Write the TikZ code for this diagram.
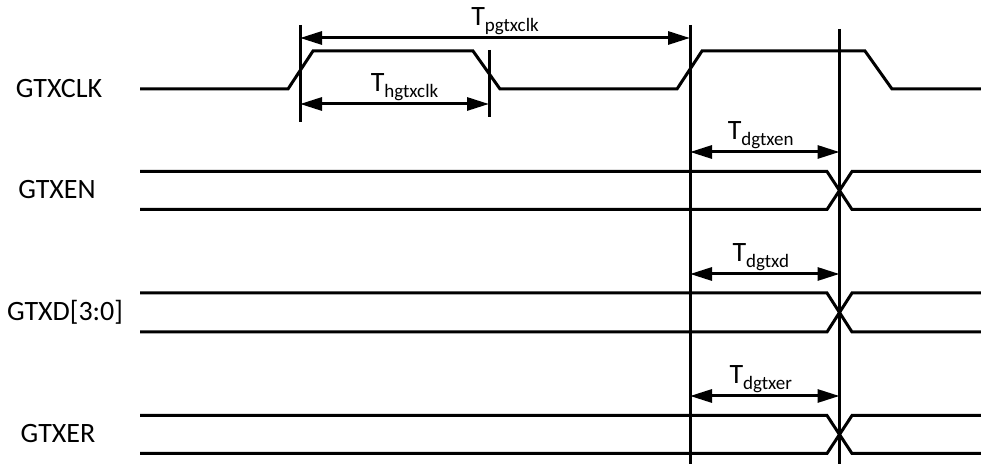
\documentclass[tikz,border=0pt]{standalone}
\usepackage{fontspec}
\setmainfont{Carlito}
\usetikzlibrary{arrows.meta}
\newcommand{\tLabel}[1]{T\raisebox{-0.4ex}{\fontsize{9.5}{10}\selectfont #1}}
\newcommand{\busSignal}[2]{%%
  %% Both rails of the bus, crossing at the second marker.
  \draw[lineStyle] (\xstart,#1) -- (\xcross-\xslope,#1) -- (\xcross+\xslope,#2) -- (\xend,#2);
  \draw[lineStyle] (\xstart,#2) -- (\xcross-\xslope,#2) -- (\xcross+\xslope,#1) -- (\xend,#1);
}
\newcommand{\delayArrow}[3]{%%
  \coordinate (#1from) at (\xedge,#2);
  \coordinate (#1to) at (\xcross,#2);
  \draw[dimStyle] (#1from) -- node[labelStyle,xshift=-2pt] {\tLabel{#3}} (#1to);
}

\begin{document}
\begin{tikzpicture}[x=0.5pt,y=-0.5pt,%%
  lineStyle/.style={-,line width=1.5pt,line join=miter},%%
  markStyle/.style={-,line width=1.5pt},%%
  dimStyle/.style={{Triangle[length=11pt,width=6.5pt]}-{Triangle[length=11pt,width=6.5pt]},line width=1.5pt},%%
  labelStyle/.style={above,inner sep=1pt,font=\fontsize{14}{16}\selectfont},%%
  nameStyle/.style={font=\fontsize{14}{16}\selectfont}%%
]
\useasboundingbox (0,0) rectangle (981,464);
%%
%%
\pgfmathsetmacro{\xstart}{140}
\pgfmathsetmacro{\xend}{981}
\pgfmathsetmacro{\xrise}{300}
\pgfmathsetmacro{\xfall}{489}
\pgfmathsetmacro{\xedge}{690}
\pgfmathsetmacro{\xcross}{839.5}
\pgfmathsetmacro{\xslope}{12.5}
\pgfmathsetmacro{\ylow}{89}
\pgfmathsetmacro{\yhigh}{51}
%% Signal names.
\node[nameStyle] (gtxclk) at (59,89) {GTXCLK};
\node[nameStyle] (gtxen) at (57,190) {GTXEN};
\node[nameStyle] (gtxd) at (65,312) {GTXD[3:0]};
\node[nameStyle] (gtxer) at (58,434) {GTXER};
%% The clock.
\draw[lineStyle] (\xstart,\ylow) -- (288,\ylow) -- (313,\yhigh) -- (473,\yhigh)
  -- (500,\ylow) -- (677,\ylow) -- (702,\yhigh) -- (865,\yhigh) -- (892,\ylow) -- (\xend,\ylow);
%% The buses.
\busSignal{171.5}{209.5}
\busSignal{293}{332}
\busSignal{415.5}{453.5}
%% The markers.
\draw[markStyle] (\xrise,25) -- (\xrise,122);
\draw[markStyle] (\xfall,50) -- (\xfall,117);
\draw[markStyle] (\xedge,25) -- (\xedge,464);
\draw[markStyle] (\xcross,29) -- (\xcross,464);
%% Clock period and high time.
\coordinate (periodFrom) at (\xrise,38);
\coordinate (periodTo) at (\xedge,38);
\draw[dimStyle] (periodFrom) -- node[labelStyle,xshift=5pt] {\tLabel{pgtxclk}} (periodTo);
\coordinate (highFrom) at (\xrise,104);
\coordinate (highTo) at (\xfall,104);
\draw[dimStyle] (highFrom) -- node[labelStyle,xshift=5pt] {\tLabel{hgtxclk}} (highTo);
%% Output delays.
\delayArrow{en}{152}{dgtxen}
\delayArrow{d}{274}{dgtxd}
\delayArrow{er}{396}{dgtxer}
\end{tikzpicture}
\end{document}
